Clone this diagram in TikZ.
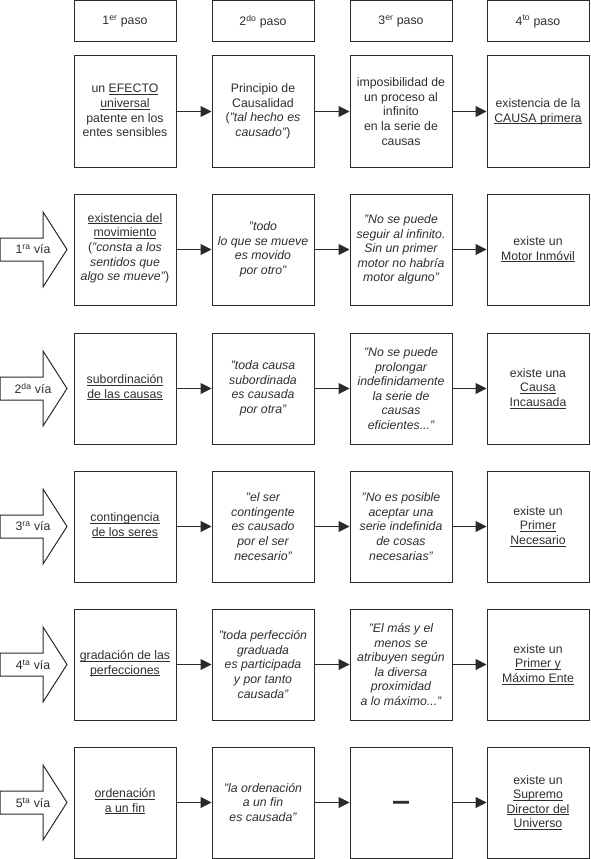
\documentclass[tikz,border=0pt]{standalone}
\usepackage{fontspec}
\usepackage{graphicx}
\setmainfont{Liberation Sans}
\usetikzlibrary{arrows.meta}
\definecolor{ink}{HTML}{2E2E2E}
\definecolor{edge}{HTML}{2A2A2A}
\newcommand\boxfont{\fontsize{12.3}{14.6}\selectfont}
\newcommand\ul[1]{\underline{\smash{#1}\vphantom{x}}}
\begin{document}
\begin{tikzpicture}[x=1pt,y=-1pt,
  box/.style={draw=edge, line width=1pt, minimum width=102pt, minimum height=111pt,
    align=center, inner sep=2pt, text=ink, font=\boxfont},
  hdr/.style={box, minimum height=41pt},
  conn/.style={draw=edge, line width=1pt, -{Triangle[length=11pt,width=11pt]}},
  via/.style={draw=edge, line width=1pt, fill=white},
  vialabel/.style={text=ink, font=\boxfont, inner sep=0pt}]
\useasboundingbox (0,0) rectangle (590,859);

% headers
\node[hdr] (h1) at (125,21.5) {1\textsuperscript{er} paso};
\node[hdr] (h2) at (263,21.5) {2\textsuperscript{do} paso};
\node[hdr] (h3) at (401,21.5) {3\textsuperscript{er} paso};
\node[hdr] (h4) at (538,21.5) {4\textsuperscript{to} paso};

% row 0
\node[box] (r0c1) at (125,111.5) {un \ul{EFECTO}\\ \ul{universal}\\ patente en los\\ entes sensibles};
\node[box] (r0c2) at (263,111.5) {Principio de\\ Causalidad\\ (\textit{"tal hecho es}\\ \textit{causado"})};
\node[box] (r0c3) at (401,111.5) {imposibilidad de\\ un proceso al\\ infinito\\ en la serie de\\ causas};
\node[box] (r0c4) at (538,111.5) {existencia de la\\ \ul{CAUSA primera}};

% row 1
\node[box] (r1c1) at (125,249.5) {\ul{existencia del}\\ \ul{movimiento}\\ (\textit{"consta a los}\\ \textit{sentidos que}\\ \textit{algo se mueve"})};
\node[box,font=\boxfont\itshape] (r1c2) at (263,249.5) {"todo\\ lo que se mueve\\ es movido\\ por otro"};
\node[box,font=\boxfont\itshape] (r1c3) at (401,249.5) {"No se puede\\ seguir al infinito.\\ Sin un primer\\ motor no habría\\ motor alguno"};
\node[box] (r1c4) at (538,249.5) {existe un\\ \ul{Motor Inmóvil}};

% row 2
\node[box] (r2c1) at (125,388.5) {\ul{subordinación}\\ \ul{de las causas}};
\node[box,font=\boxfont\itshape] (r2c2) at (263,388.5) {"toda causa\\ subordinada\\ es causada\\ por otra"};
\node[box,font=\boxfont\itshape] (r2c3) at (401,388.5) {"No se puede\\ prolongar\\ indefinidamente\\ la serie de\\ causas\\ eficientes..."};
\node[box] (r2c4) at (538,388.5) {existe una\\ \ul{Causa}\\ \ul{Incausada}};

% row 3
\node[box] (r3c1) at (125,526.5) {\ul{contingencia}\\ \ul{de los seres}};
\node[box,font=\boxfont\itshape] (r3c2) at (263,526.5) {"el ser\\ contingente\\ es causado\\ por el ser\\ necesario"};
\node[box,font=\boxfont\itshape] (r3c3) at (401,526.5) {"No es posible\\ aceptar una\\ serie indefinida\\ de cosas\\ necesarias"};
\node[box] (r3c4) at (538,526.5) {existe un\\ \ul{Primer}\\ \ul{Necesario}};

% row 4
\node[box] (r4c1) at (125,664.5) {\ul{gradación de las}\\ \ul{perfecciones}};
\node[box,font=\boxfont\itshape] (r4c2) at (263,664.5) {"toda perfección\\ graduada\\ es participada\\ y por tanto\\ causada"};
\node[box,font=\boxfont\itshape] (r4c3) at (401,664.5) {"El más y el\\ menos se\\ atribuyen según\\ la diversa\\ proximidad\\ a lo máximo..."};
\node[box] (r4c4) at (538,664.5) {existe un\\ \ul{Primer y}\\ \ul{Máximo Ente}};

% row 5
\node[box,font=\fontsize{16}{18}\selectfont\bfseries] (r5c3) at (401,802.5) {\raisebox{-8pt}[0pt][0pt]{\scalebox{1}[1.8]{—}}};
\node[box] (r5c1) at (125,802.5) {\ul{ordenación}\\ \ul{a un fin}};
\node[box,font=\boxfont\itshape] (r5c2) at (263,802.5) {"la ordenación\\ a un fin\\ es causada"};
\node[box] (r5c4) at (538,802.5) {existe un\\ \ul{Supremo}\\ \ul{Director del}\\ \ul{Universo}};

% connectors
\foreach \r in {0,...,5}{
  \draw[conn] (r\r c1.east) -- (r\r c2.west);
  \draw[conn] (r\r c2.east) -- (r\r c3.west);
  \draw[conn] (r\r c3.east) -- (r\r c4.west);
}

% block arrows (vias)
\foreach \c/\n/\s in {249.5/1/ra, 388.5/2/da, 526.5/3/ra, 664.5/4/ta, 802.5/5/ta}{
  \draw[via] (0,\c-11.5) -- (43,\c-11.5) -- (43,\c-37.5) -- (67,\c)
     -- (43,\c+37.5) -- (43,\c+11.5) -- (0,\c+11.5) -- cycle;
  \node[vialabel] (via\n) at (33,\c) {\n\textsuperscript{\s} vía};
}
\end{tikzpicture}
\end{document}
